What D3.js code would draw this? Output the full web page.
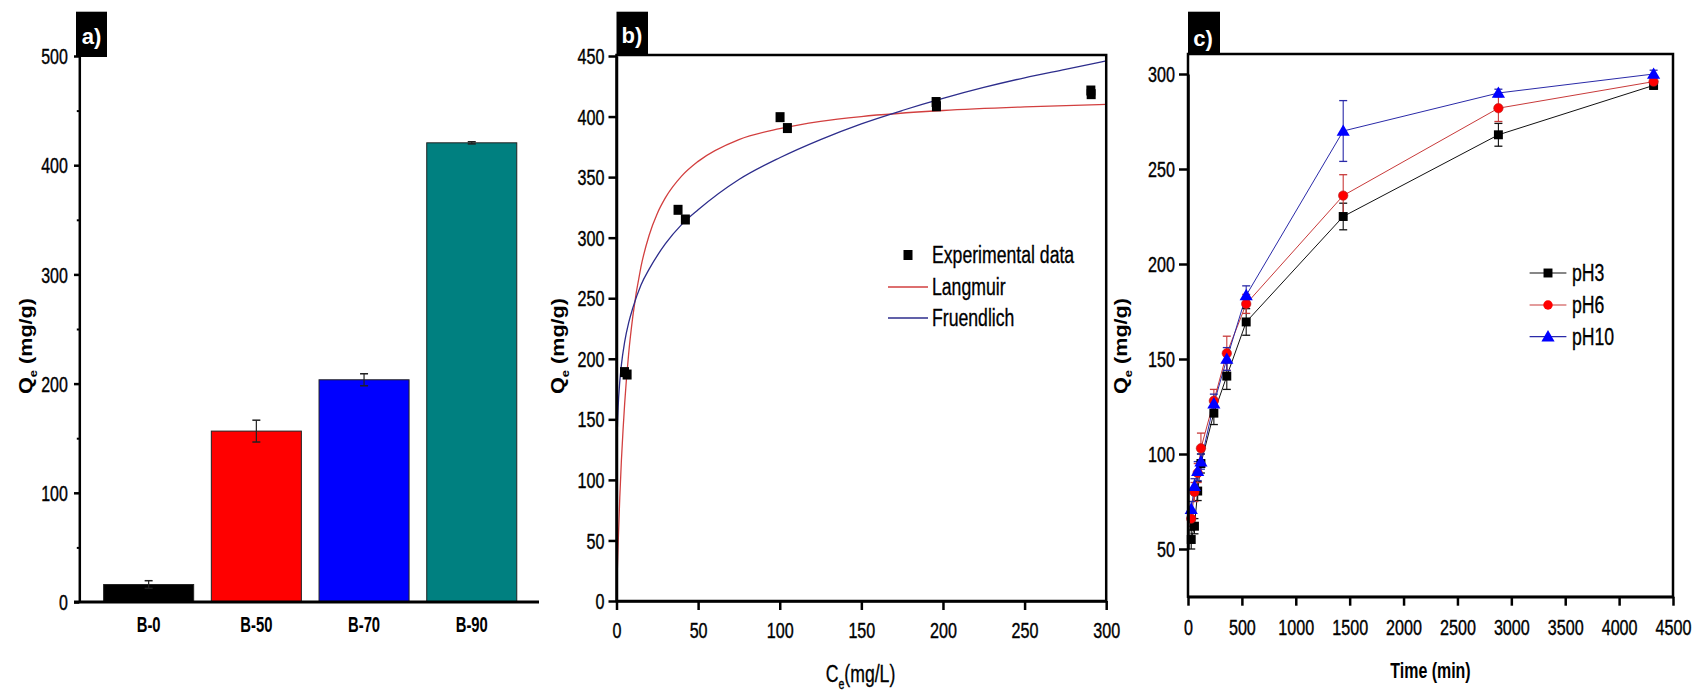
<!DOCTYPE html>
<html><head><meta charset="utf-8">
<script src="https://cdn.jsdelivr.net/npm/d3@7"></script>
<style>body{margin:0;background:#fff}svg{display:block}</style>
</head><body>
<svg id="chart" width="1696" height="695"></svg>
<script>
// ---------- Panel a data ----------
const barCategories = ["B-0", "B-50", "B-70", "B-90"];
const barValues = [16, 156.5, 203.5, 420.5];
const barErrors = [3.5, 10, 5.5, 1];
const barColors = ["#000000", "#ff0000", "#0000ff", "#008080"];
const barTicks = [0, 100, 200, 300, 400, 500];
const barMinorTicks = [50, 150, 250, 350, 450];

// ---------- Panel b data ----------
const expC = [4.9, 6.5, 37.7, 42.2, 100.2, 104.7, 195.8, 196.0, 290.6, 290.8];
const expQ = [189, 187, 323, 315, 399.5, 390.5, 412, 408.5, 421.5, 418.5];
const langC = [0, 0.5, 1, 2, 3, 4, 5, 7.5, 10, 15, 20, 25, 30, 40, 50, 75, 100, 125, 150, 200, 250, 300];
const langQ = [0, 25, 47, 85, 116, 141, 163, 205, 235, 276, 302, 320, 333, 351, 363, 381, 390, 396, 400, 405, 408, 410];
const freuC = [0, 0.001, 0.01, 0.05, 0.1, 0.25, 0.5, 1, 2, 3, 5, 7.5, 10, 15, 20, 30, 40, 50, 75, 100, 125, 150, 175, 200, 225, 250, 275, 300];
const freuQ = [0, 46, 70, 94, 106, 125, 141, 160, 181, 195, 214, 230, 242, 261, 274, 295, 311, 323, 348, 366, 381, 394, 405, 415, 424, 432, 439, 446];
const isoTicksX = [0, 50, 100, 150, 200, 250, 300];
const isoTicksY = [0, 50, 100, 150, 200, 250, 300, 350, 400, 450];

// ---------- Panel c data ----------
const timeMin = [30, 60, 90, 120, 240, 360, 540, 1440, 2880, 4320];
const pH3 = [55, 62, 80.5, 95, 121.5, 141, 169.5, 225, 268, 294];
const pH3Err = [5, 4, 5, 5, 6, 7, 7, 7, 6, 2];
const pH6 = [66, 80, 90, 103, 128, 153, 179, 236, 282, 296];
const pH6Err = [4, 5, 5, 8, 6, 9, 5, 11, 7, 2];
const pH10 = [71, 83, 91, 96, 126.5, 150, 183.5, 270, 290, 300];
const pH10Err = [4, 4, 5, 4, 5, 6, 5, 16, 2, 2];
const kinTicksX = [0, 500, 1000, 1500, 2000, 2500, 3000, 3500, 4000, 4500];
const kinTicksY = [50, 100, 150, 200, 250, 300];

const FONT = '"Liberation Sans", Arial, Helvetica, sans-serif';
const svg = d3.select("#chart");
const INK = "#000";

function fixTicks(g, o) {
  g.selectAll(".tick line").attr("stroke", INK).attr("stroke-width", o.tw || 2.5);
  g.selectAll(".domain").attr("stroke", INK).attr("stroke-width", o.dw || 2.5);
  g.selectAll(".tick text").each(function () {
    d3.select(this).attr("x", null).attr("y", null).attr("dy", null)
      .attr("font-family", FONT).attr("font-size", o.size).attr("font-weight", o.weight || "normal")
      .attr("fill", INK).attr("stroke", INK).attr("stroke-width", o.weight ? 0 : 0.35)
      .attr("transform", `translate(${o.x},${o.y}) scale(${o.sx},${o.sy})`);
  });
}
function label(parent, x, y, parts, o) {
  const t = parent.append("text")
    .attr("transform", `translate(${x},${y})${o.rot ? ` rotate(${o.rot})` : ""} scale(${o.sx || 1},${o.sy || 1})`)
    .attr("font-family", FONT).attr("font-size", o.size).attr("font-weight", o.weight || "normal")
    .attr("text-anchor", o.anchor || "start").attr("fill", o.fill || INK);
  if (o.thick) t.attr("stroke", o.fill || INK).attr("stroke-width", o.thick);
  parts.forEach(p => {
    const s = t.append("tspan").text(p.t);
    if (p.sub) s.attr("font-size", o.size * 0.6).attr("dy", o.size * 0.3);
    if (p.after) s.attr("dy", -o.size * 0.3);
  });
  return t;
}
function panelTag(x, y, w, h, s, bx, by) {
  svg.append("rect").attr("x", x).attr("y", y).attr("width", w).attr("height", h).attr("fill", "#000");
  label(svg, bx, by, [{ t: s }], { size: 21, weight: "bold", fill: "#fff", anchor: "middle", sx: 1.05, sy: 1.05 });
}

// ================= Panel a =================
{
  const g = svg.append("g");
  const y = d3.scaleLinear().domain([0, 500]).range([602, 56]);
  const x = d3.scaleBand().domain(barCategories).range([94.8, 525.6]).paddingInner(0.164).paddingOuter(0.082);

  g.selectAll("rect.bar").data(barCategories).join("rect").attr("class", "bar")
    .attr("x", d => x(d)).attr("width", x.bandwidth())
    .attr("y", (d, i) => y(barValues[i])).attr("height", (d, i) => y(0) - y(barValues[i]))
    .attr("fill", (d, i) => barColors[i]).attr("stroke", "#222").attr("stroke-width", 1);

  const eb = g.selectAll("g.err").data(barCategories).join("g").attr("class", "err");
  eb.append("line").attr("x1", d => x(d) + x.bandwidth() / 2).attr("x2", d => x(d) + x.bandwidth() / 2)
    .attr("y1", (d, i) => y(barValues[i] - barErrors[i])).attr("y2", (d, i) => y(barValues[i] + barErrors[i]))
    .attr("stroke", "#222").attr("stroke-width", 1.2);
  [1, -1].forEach(sg => {
    eb.append("line").attr("x1", d => x(d) + x.bandwidth() / 2 - 4).attr("x2", d => x(d) + x.bandwidth() / 2 + 4)
      .attr("y1", (d, i) => y(barValues[i] + sg * barErrors[i])).attr("y2", (d, i) => y(barValues[i] + sg * barErrors[i]))
      .attr("stroke", "#222").attr("stroke-width", 1.5);
  });

  const ya = g.append("g").attr("transform", "translate(79.3,0)")
    .call(d3.axisLeft(y).tickValues(barTicks).tickSize(5.3).tickSizeOuter(0));
  fixTicks(ya, { size: 19, x: -11.5, y: 0.716 * 19 * 1.12 / 2, sx: 0.84, sy: 1.12 });
  const ym = g.append("g").attr("transform", "translate(79.3,0)")
    .call(d3.axisLeft(y).tickValues(barMinorTicks).tickSize(2.5).tickFormat(""));
  ym.select(".domain").remove();
  ym.selectAll(".tick line").attr("stroke", INK).attr("stroke-width", 2);

  g.append("line").attr("x1", 74).attr("x2", 539).attr("y1", y(0)).attr("y2", y(0))
    .attr("stroke", INK).attr("stroke-width", 2.8);
  const xa = g.append("g").attr("transform", `translate(0,${y(0)})`)
    .call(d3.axisBottom(x).tickSize(0));
  xa.select(".domain").remove();
  fixTicks(xa, { size: 19, weight: "bold", x: 0, y: 30.3, sx: 0.78, sy: 1.15 });

  label(g, 32, 346, [{ t: "Q" }, { t: "e", sub: true }, { t: " (mg/g)", after: true }],
    { size: 18, weight: "bold", rot: -90, anchor: "middle", sx: 1.2, sy: 1 });
  panelTag(76, 11.7, 31, 45.3, "a)", 91.5, 44);
}

// ================= Panel b =================
{
  const g = svg.append("g");
  const x = d3.scaleLinear().domain([0, 300]).range([616.5, 1106.2]);
  const y = d3.scaleLinear().domain([0, 450]).range([601, 56]);
  svg.append("clipPath").attr("id", "clipB").append("rect")
    .attr("x", 616.5).attr("y", 55).attr("width", 489.7).attr("height", 546);

  const line = d3.line().curve(d3.curveMonotoneX);
  g.append("path").attr("clip-path", "url(#clipB)")
    .attr("d", line(langC.map((c, i) => [x(c), y(langQ[i])])))
    .attr("fill", "none").attr("stroke", "#d23f3f").attr("stroke-width", 1.3);
  g.append("path").attr("clip-path", "url(#clipB)")
    .attr("d", line(freuC.map((c, i) => [x(c), y(freuQ[i])])))
    .attr("fill", "none").attr("stroke", "#2d2d8c").attr("stroke-width", 1.3);

  g.selectAll("rect.pt").data(expC).join("rect").attr("class", "pt")
    .attr("x", (d) => x(d) - 4.5).attr("y", (d, i) => y(expQ[i]) - 5)
    .attr("width", 9).attr("height", 10).attr("fill", "#000");

  g.append("rect").attr("x", 616.5).attr("y", 55).attr("width", 489.7).attr("height", 546)
    .attr("fill", "none").attr("stroke", INK).attr("stroke-width", 2.5);

  const xa = g.append("g").attr("transform", "translate(0,601)")
    .call(d3.axisBottom(x).tickValues(isoTicksX).tickSize(9).tickSizeOuter(0));
  fixTicks(xa, { size: 19, x: 0, y: 37, sx: 0.85, sy: 1.12 });
  const ya = g.append("g").attr("transform", "translate(616.5,0)")
    .call(d3.axisLeft(y).tickValues(isoTicksY).tickSize(8).tickSizeOuter(0));
  fixTicks(ya, { size: 19, x: -12, y: 0.716 * 19 * 1.12 / 2, sx: 0.85, sy: 1.12 });

  // legend
  g.append("rect").attr("x", 903.5).attr("y", 250).attr("width", 9).attr("height", 10).attr("fill", "#000");
  g.append("line").attr("x1", 888).attr("x2", 928).attr("y1", 287).attr("y2", 287).attr("stroke", "#d23f3f").attr("stroke-width", 1.3);
  g.append("line").attr("x1", 888).attr("x2", 928).attr("y1", 318).attr("y2", 318).attr("stroke", "#2d2d8c").attr("stroke-width", 1.3);
  const lo = { size: 21, sx: 0.84, sy: 1.1, thick: 0.3 };
  label(g, 932, 263, [{ t: "Experimental data" }], lo);
  label(g, 932, 295, [{ t: "Langmuir" }], lo);
  label(g, 932, 326, [{ t: "Fruendlich" }], lo);

  label(g, 860.5, 682, [{ t: "C" }, { t: "e", sub: true }, { t: "(mg/L)", after: true }],
    { size: 21, anchor: "middle", sx: 0.84, sy: 1.1, thick: 0.3 });
  label(g, 564, 346, [{ t: "Q" }, { t: "e", sub: true }, { t: " (mg/g)", after: true }],
    { size: 18, weight: "bold", rot: -90, anchor: "middle", sx: 1.2, sy: 1 });
  panelTag(616.5, 11.7, 31.5, 43.3, "b)", 632, 43);
}

// ================= Panel c =================
{
  const g = svg.append("g");
  const x = d3.scaleLinear().domain([0, 4500]).range([1188, 1673]);
  const y = d3.scaleLinear().domain([50, 300]).range([549, 74]);
  const line = d3.line();
  const series = [
    { name: "pH3", v: pH3, e: pH3Err, line: "#111", fill: "#000", shape: "square" },
    { name: "pH6", v: pH6, e: pH6Err, line: "#c83a3a", fill: "#ff0000", shape: "circle" },
    { name: "pH10", v: pH10, e: pH10Err, line: "#2a2aa8", fill: "#0000ff", shape: "triangle" }
  ];
  const sym = { square: d3.symbolSquare, circle: d3.symbolCircle, triangle: d3.symbolTriangle };
  const symSize = { square: 80, circle: 70, triangle: 75 };

  series.forEach(s => {
    g.append("path").attr("d", line(timeMin.map((t, i) => [x(t), y(s.v[i])])))
      .attr("fill", "none").attr("stroke", s.line).attr("stroke-width", 1);
  });
  series.forEach(s => {
    const eg = g.append("g");
    timeMin.forEach((t, i) => {
      const cx = x(t);
      eg.append("line").attr("x1", cx).attr("x2", cx).attr("y1", y(s.v[i] - s.e[i])).attr("y2", y(s.v[i] + s.e[i]))
        .attr("stroke", s.line).attr("stroke-width", 1.1);
      [1, -1].forEach(sg => eg.append("line").attr("x1", cx - 4).attr("x2", cx + 4)
        .attr("y1", y(s.v[i] + sg * s.e[i])).attr("y2", y(s.v[i] + sg * s.e[i]))
        .attr("stroke", s.line).attr("stroke-width", 1.3));
    });
  });
  series.forEach(s => {
    g.selectAll(null).data(timeMin).join("path")
      .attr("transform", (t, i) => `translate(${x(t)},${y(s.v[i]) + (s.shape === "triangle" ? 1 : 0)})`)
      .attr("d", d3.symbol(sym[s.shape], symSize[s.shape])())
      .attr("fill", s.fill).attr("stroke", s.shape === "circle" ? "#b02020" : "none").attr("stroke-width", 0.6);
  });

  g.append("rect").attr("x", 1188).attr("y", 54).attr("width", 485).attr("height", 542.7)
    .attr("fill", "none").attr("stroke", INK).attr("stroke-width", 2.5);
  const xa = g.append("g").attr("transform", "translate(0,596.7)")
    .call(d3.axisBottom(x).tickValues(kinTicksX).tickFormat(d3.format("d")).tickSize(9).tickSizeOuter(0));
  fixTicks(xa, { size: 19, x: 0, y: 38.5, sx: 0.85, sy: 1.12 });
  const ya = g.append("g").attr("transform", "translate(1188,0)")
    .call(d3.axisLeft(y).tickValues(kinTicksY).tickSize(9).tickSizeOuter(0));
  fixTicks(ya, { size: 19, x: -13, y: 0.716 * 19 * 1.12 / 2, sx: 0.85, sy: 1.12 });

  // legend
  const ly = [273, 305, 336.7];
  series.forEach((s, i) => {
    g.append("line").attr("x1", 1529.6).attr("x2", 1566.4).attr("y1", ly[i]).attr("y2", ly[i])
      .attr("stroke", s.line).attr("stroke-width", 1.2);
    g.append("path").attr("transform", `translate(1548,${ly[i] + (s.shape === "triangle" ? 1 : 0)})`)
      .attr("d", d3.symbol(sym[s.shape], symSize[s.shape])()).attr("fill", s.fill);
    label(g, 1572, ly[i] + 8, [{ t: s.name }], { size: 21, sx: 0.84, sy: 1.1, thick: 0.3 });
  });

  label(g, 1430.5, 678, [{ t: "Time (min)" }], { size: 19, weight: "bold", anchor: "middle", sx: 0.84, sy: 1.2 });
  label(g, 1127, 346, [{ t: "Q" }, { t: "e", sub: true }, { t: " (mg/g)", after: true }],
    { size: 18, weight: "bold", rot: -90, anchor: "middle", sx: 1.2, sy: 1 });
  panelTag(1188, 11.7, 32, 42.3, "c)", 1203, 46);
}
</script>
</body></html>
